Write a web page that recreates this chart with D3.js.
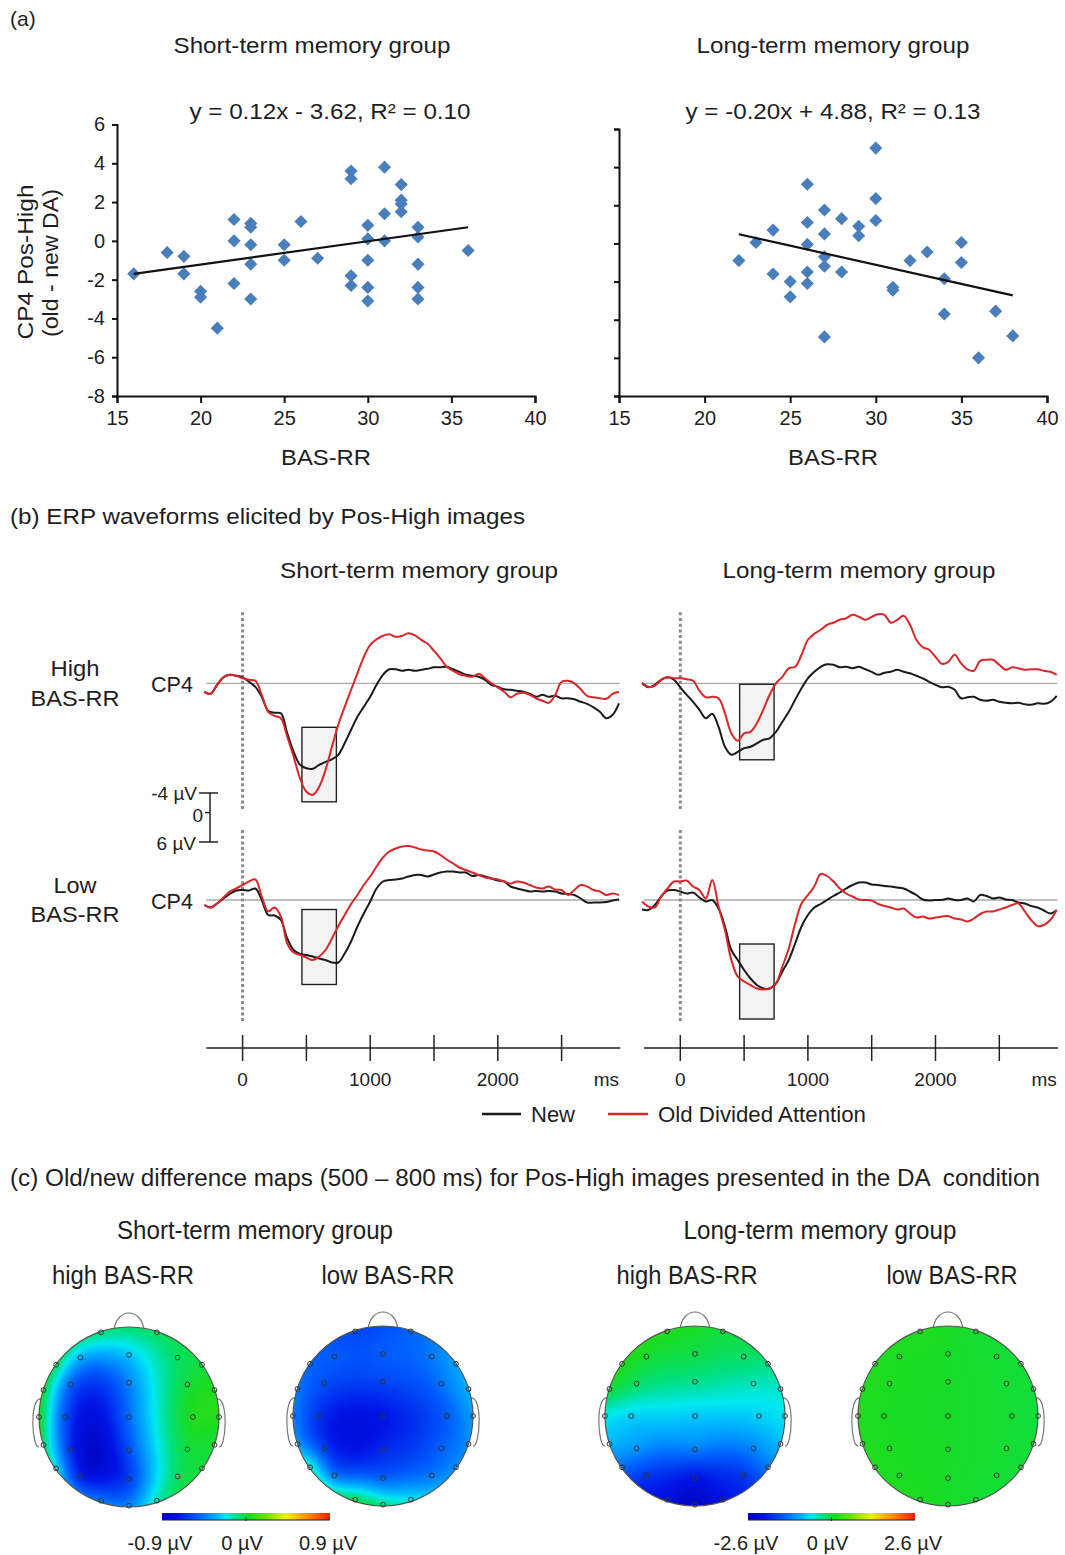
<!DOCTYPE html>
<html>
<head>
<meta charset="utf-8">
<script src="https://cdn.jsdelivr.net/npm/d3@7"></script>
<style>
body{margin:0;background:#fff;}
svg text{font-family:"Liberation Sans",Arial,sans-serif;fill:#1e1e1e;white-space:pre;}
</style>
</head>
<body>
<svg id="fig" width="1065" height="1555"></svg>
<script>
// ---- (a) scatter data: BAS-RR score vs CP4 old-new difference (DA) ----
var shortX = [16,18,19,19,20,20,21,22,22,22,23,23,23,23,23,25,25,26,27,29,29,29,29,30,30,30,30,30,31,31,31,32,32,32,32,33,33,33,33,33,36];
var shortY = [-1.7,-0.6,-0.8,-1.7,-2.6,-2.9,-4.5,1.1,0,-2.2,0.9,0.7,-0.2,-1.2,-3.0,-0.2,-1.0,1.0,-0.9,3.6,3.2,-1.8,-2.3,0.8,0.1,-1.0,-2.4,-3.1,3.8,1.4,0,2.9,2.1,1.9,1.5,0.7,0.2,-1.2,-2.4,-3.0,-0.5];
var longX = [22,23,24,24,25,25,26,26,26,26,26,27,27,27,27,27,28,28,29,29,30,30,30,31,31,32,33,34,34,35,35,36,37,38];
var longY = [-0.9,0.05,0.7,-1.6,-2.0,-2.8,3.1,1.1,-0.05,-1.5,-2.1,1.75,0.5,-0.7,-1.2,-4.9,1.3,-1.5,0.9,0.4,5.0,2.35,1.2,-2.3,-2.45,-0.9,-0.45,-1.85,-3.7,0.05,-1.0,-6.0,-3.55,-4.85];
var fitSlope = [0.12, -0.20];
var fitIntercept = [-3.62, 4.88];
var fitRange = [[16, 36], [22, 38]];
var fitLabels = ["y = 0.12x - 3.62, R\u00b2 = 0.10", "y = -0.20x + 4.88, R\u00b2 = 0.13"];
var xTicks = [15, 20, 25, 30, 35, 40];
var yTicks = [-8, -6, -4, -2, 0, 2, 4, 6];
var groupNames = ["Short-term memory group", "Long-term memory group"];

// ---- (b) ERP waveforms at CP4 (µV, sampled every 50 ms) ----
var times = [-300,-250,-200,-150,-100,-50,0,50,100,150,200,250,300,350,400,450,500,550,600,650,700,750,800,850,900,950,
  1000,1050,1100,1150,1200,1250,1300,1350,1400,1450,1500,1550,1600,1650,1700,1750,1800,1850,1900,1950,
  2000,2050,2100,2150,2200,2250,2300,2350,2400,2450,2500,2550,2600,2650,2700,2750,2800,2850,2900,2950];
var shortHighNew = [1.7,2.1,0.3,-1.2,-1.7,-1.5,-1.2,-0.3,0.7,2.7,5.5,5.9,6.0,10.0,13.7,16.3,17.0,17.1,16.3,15.7,15.2,14.3,12.0,9.3,6.7,4.7,2.7,0.3,-1.7,-2.8,-2.8,-2.5,-2.7,-2.5,-2.7,-2.9,-3.2,-3.2,-3.3,-2.8,-2.3,-1.7,-1.5,-1.3,-0.7,0.3,0.7,1.2,1.3,1.5,1.7,2.1,2.7,2.3,2.7,2.5,3.0,3.0,3.2,3.7,4.1,4.8,5.7,7.0,6.3,4.0];
var shortHighOld = [1.7,2.1,0.3,-1.2,-1.7,-1.5,-1.0,-0.7,-0.5,2.3,5.7,6.5,7.0,10.7,14.7,19.0,21.7,22.3,20.7,17.3,12.7,8.3,4.7,1.3,-2.0,-5.3,-7.7,-8.8,-9.5,-9.8,-9.3,-9.5,-10.0,-9.6,-8.7,-7.9,-6.5,-5.0,-3.3,-2.5,-1.8,-1.5,-1.3,-1.9,-1.0,0,0.8,1.7,2.8,2.1,1.9,2.3,3.0,3.5,3.9,2.3,-0.3,-0.5,0,1.2,2.5,2.8,3.0,3.1,2.1,1.7];
var longHighNew = [0,0.8,0.3,-0.7,-1.2,-0.7,0.8,2.3,3.7,5.3,7.0,6.1,8.7,12.7,14.3,13.7,13.0,12.7,12.0,11.3,11.0,9.7,7.7,5.7,3.3,1.0,-1.0,-2.3,-3.3,-3.8,-3.7,-3.2,-3.3,-3.0,-3.3,-2.8,-2.3,-1.7,-2.1,-2.3,-2.7,-2.3,-2.0,-1.5,-1.0,-0.3,0.3,0.8,0.7,1.3,3.0,2.8,2.7,3.3,3.5,3.3,3.7,3.9,4.0,3.9,4.2,4.3,4.0,4.1,3.7,2.5];
var longHighOld = [-0.1,0.7,0.5,-0.7,-1.2,-1.0,-1.0,-0.8,-0.5,1.5,2.8,2.7,3.0,6.0,10.0,11.5,10.0,9.7,8.0,5.3,2.3,0,-1.3,-3.0,-3.3,-5.7,-8.7,-9.9,-10.7,-11.7,-12.1,-12.7,-13.0,-13.7,-13.3,-12.7,-13.3,-13.8,-13.7,-12.1,-12.7,-13.5,-11.7,-8.7,-7.2,-6.7,-5.3,-3.9,-4.3,-5.7,-4.0,-2.8,-2.5,-4.5,-4.7,-4.7,-3.7,-2.7,-3.2,-3.0,-2.7,-2.8,-2.8,-2.5,-2.3,-1.7];
var shortLowNew = [1.0,1.5,0.7,-0.3,-1.2,-1.9,-2.0,-1.9,-2.3,0,3.0,3.1,4.0,7.7,10.0,10.8,11.0,11.3,11.7,12.0,12.5,12.5,10.7,8.3,5.3,2.7,0.3,-2.3,-3.7,-4.0,-4.1,-4.3,-4.7,-5.0,-5.0,-4.7,-5.1,-5.5,-5.7,-5.7,-5.5,-5.5,-4.8,-5.0,-4.7,-4.3,-3.9,-3.7,-2.7,-2.3,-2.0,-1.7,-1.8,-1.7,-1.8,-1.7,-1.3,-1.2,-1.0,-0.3,0.5,0.5,0.5,0.4,0.1,-0.1];
var shortLowOld = [1.0,1.5,0.7,-0.5,-1.7,-2.3,-3.0,-3.7,-4.1,-0.7,2.3,1.5,3.3,8.7,10.5,11.0,11.5,12.0,11.3,10.0,7.7,5.2,3.0,0.8,-1.0,-3.0,-4.7,-6.7,-8.5,-9.7,-10.3,-10.7,-10.8,-10.5,-10.1,-9.9,-9.7,-9.0,-8.1,-7.3,-6.5,-6.0,-5.5,-5.0,-4.5,-4.3,-4.1,-3.7,-3.3,-3.7,-3.5,-3.0,-2.5,-2.3,-2.7,-2.1,-2.0,-1.0,-2.0,-3.0,-2.7,-2.0,-1.7,-1.0,-1.3,-1.0];
var longLowNew = [1.9,2.0,1.0,-0.7,-1.9,-2.0,-1.7,-1.3,-1.5,-0.5,0.3,0,1.7,5.3,10.0,12.0,14.0,15.7,17.0,17.7,17.7,16.7,14.3,12.0,8.7,5.3,3.0,1.5,0.8,0,-0.8,-1.5,-2.3,-3.0,-3.5,-3.5,-3.1,-3.0,-2.8,-2.7,-2.5,-2.3,-1.7,-1.0,-0.1,0.1,0,0,-0.3,0,0,-0.3,0.3,-1.0,-0.8,-0.3,-0.5,-0.1,0,0.5,0.7,1.2,1.5,2.1,2.7,2.0];
var longLowOld = [0.3,1.3,1.5,-0.7,-2.3,-3.7,-3.7,-3.9,-2.7,-2.0,-0.3,-4.0,1.3,6.0,12.0,15.3,16.3,17.0,17.7,17.9,17.7,16.7,13.3,9.7,4.7,0.7,-1.0,-2.7,-5.2,-4.8,-3.7,-2.3,-1.3,-0.7,-0.1,0,0.1,0.8,1.2,1.5,1.9,1.7,2.7,3.5,3.3,3.7,3.5,3.3,3.2,3.7,3.9,4.3,3.7,2.8,2.3,2.3,1.9,1.5,1.0,0.7,2.3,4.0,5.2,5.0,4.0,2.0];
var windowMs = [465, 735];            // shaded analysis window
var boxRange = [[8.8, 23.7], [0.2, 15.3], [1.9, 16.9], [8.8, 23.8]]; // µV span of each window box
var timeTicks = [0, 500, 1000, 1500, 2000, 2500];
var timeLabels = [0, 1000, 2000];

// ---- (c) old/new difference at 30 electrodes (µV) ----
var mapShortHigh = [-0.08,-0.05, -0.05,-0.32,-0.28,-0.05,0, 0,-0.5,-0.42,0,0.05, 0.05,-0.55,-0.48,0.05,0.05, -0.05,-0.64,-0.55,0,0, -0.22,-0.68,-0.6,-0.05,0, -0.45,-0.42,-0.15];
var mapShortLow = [-0.58,-0.5, -0.5,-0.52,-0.52,-0.45,-0.35, -0.45,-0.56,-0.58,-0.46,-0.33, -0.42,-0.64,-0.72,-0.52,-0.36, -0.37,-0.6,-0.66,-0.5,-0.4, -0.16,-0.45,-0.5,-0.45,-0.4, -0.03,-0.1,-0.22];
var mapLongHigh = [0.15,0, 0.15,0.05,-0.05,-0.15,-0.25, 0,-0.15,-0.3,-0.45,-0.5, -0.6,-0.75,-0.8,-0.75,-0.65, -0.9,-1.1,-1.25,-1.2,-0.9, -1.4,-1.8,-2.1,-1.8,-1.3, -2.2,-2.4,-2.1];
var mapLongLow = [0.15,0.05, 0.15,0.12,0.08,0.04,0.02, 0.15,0.12,0.08,0.04,0.02, 0.15,0.12,0.08,0.04,0.02, 0.15,0.12,0.08,0.04,0.02, 0.15,0.12,0.08,0.04,0.02, 0.12,0.08,0.04];
var mapLimits = [0.9, 0.9, 2.6, 2.6];
var mapTitles = ["high BAS-RR", "low BAS-RR", "high BAS-RR", "low BAS-RR"];

// electrode montage (unit head, x right, y toward back)
var montage = [[-0.31,-0.94],[0.31,-0.94],
  [-0.81,-0.58],[-0.54,-0.66],[0,-0.69],[0.54,-0.66],[0.81,-0.58],
  [-0.95,-0.30],[-0.65,-0.36],[0,-0.38],[0.65,-0.36],[0.95,-0.30],
  [-1,0],[-0.71,0],[0,0],[0.71,0],[1,0],
  [-0.95,0.31],[-0.65,0.36],[0,0.37],[0.65,0.36],[0.95,0.31],
  [-0.81,0.57],[-0.54,0.66],[0,0.69],[0.54,0.66],[0.81,0.57],
  [-0.31,0.93],[0,0.985],[0.31,0.93]];

var svg = d3.select("#fig");

function txt(x, y, s, size, anchor, len){
    var t = svg.append("text").attr("x", x).attr("y", y).text(s)
        .style("font-size", size + "px").attr("text-anchor", anchor || "start");
    if(len){
        t.attr("textLength", len).attr("lengthAdjust", "spacingAndGlyphs");
    }
    return t;
}

// ================= (a) scatter plots =================
txt(10, 26, "(a)", 21);
var scat = [
    {xs: shortX, ys: shortY, xr: [117, 535], yr: [396, 124.5], labels: true, titleX: 312, titleLen: 277, eqX: 330, eqLen: 281},
    {xs: longX, ys: longY, xr: [619, 1047], yr: [396, 129], labels: false, titleX: 833, titleLen: 273, eqX: 833, eqLen: 295}
];
scat.forEach(function(p, k){
    var x = d3.scaleLinear().domain([15, 40]).range(p.xr);
    var y = d3.scaleLinear().domain([-8, 6]).range(p.yr);
    txt(p.titleX, 53, groupNames[k], 22, "middle", p.titleLen);
    txt(p.eqX, 119, fitLabels[k], 22, "middle", p.eqLen);

    var gx = svg.append("g").attr("transform", "translate(0," + p.yr[0] + ")")
        .call(d3.axisBottom(x).tickValues(xTicks).tickSize(7).tickPadding(8).tickFormat(function(d){ return String(d); }));
    var gy = svg.append("g").attr("transform", "translate(" + p.xr[0] + ",0)")
        .call(d3.axisLeft(y).tickValues(yTicks).tickSize(5).tickPadding(7).tickFormat(function(d){ return String(d); }));
    if(!p.labels){ gy.selectAll(".tick text").remove(); }
    [gx, gy].forEach(function(g){
        g.select(".domain").attr("stroke", "#111").attr("stroke-width", 2);
        g.selectAll(".tick line").attr("stroke", "#111").attr("stroke-width", 2);
        g.selectAll(".tick text").style("font-size", "20px").attr("fill", "#1e1e1e")
            .style("font-family", '"Liberation Sans",Arial,sans-serif');
    });
    txt((p.xr[0] + p.xr[1]) / 2, 465, "BAS-RR", 22, "middle", 90);

    svg.append("g").selectAll("path").data(p.xs).enter().append("path")
        .attr("d", d3.symbol().type(d3.symbolSquare).size(86))
        .attr("transform", function(d, i){ return "translate(" + x(d) + "," + y(p.ys[i]) + ") rotate(45)"; })
        .attr("fill", "#4a7ebb");

    var fit = d3.line().x(function(d){ return x(d); })
        .y(function(d){ return y(fitSlope[k] * d + fitIntercept[k]); });
    svg.append("path").attr("d", fit(fitRange[k])).attr("stroke", "#111")
        .attr("stroke-width", 2.2).attr("fill", "none");
});
svg.append("text").attr("transform", "translate(33,262) rotate(-90)").attr("text-anchor", "middle")
    .style("font-size", "22px").attr("textLength", 155).attr("lengthAdjust", "spacingAndGlyphs").text("CP4 Pos-High");
svg.append("text").attr("transform", "translate(58,263) rotate(-90)").attr("text-anchor", "middle")
    .style("font-size", "22px").attr("textLength", 148).attr("lengthAdjust", "spacingAndGlyphs").text("(old - new DA)");

// ================= (b) ERP waveforms =================
txt(10, 524, "(b) ERP waveforms elicited by Pos-High images", 22, "start", 515);
txt(419, 578, groupNames[0], 22, "middle", 278);
txt(859, 578, groupNames[1], 22, "middle", 273);

var colZero = [242.6, 680.3];   // x position of stimulus onset
var rowBase = [683.3, 900];     // y position of the CP4 baseline
var erp = [
    {row: 0, col: 0, nw: shortHighNew, od: shortHighOld},
    {row: 0, col: 1, nw: longHighNew, od: longHighOld},
    {row: 1, col: 0, nw: shortLowNew, od: shortLowOld},
    {row: 1, col: 1, nw: longLowNew, od: longLowOld}
];
var tx = colZero.map(function(z){ return d3.scaleLinear().domain([0, 2500]).range([z, z + 319]); });
var vy = rowBase.map(function(b){ return d3.scaleLinear().domain([0, 10]).range([b, b + 50]); });

erp.forEach(function(p, k){
    var x = tx[p.col], y = vy[p.row];
    svg.append("line").attr("x1", x(-285)).attr("x2", x(2955)).attr("y1", y(0)).attr("y2", y(0))
        .attr("stroke", "#aaa").attr("stroke-width", 1.3);
    svg.append("line").attr("x1", x(0)).attr("x2", x(0))
        .attr("y1", y(0) - (p.row ? 70 : 71)).attr("y2", y(0) + (p.row ? 123 : 126))
        .attr("stroke", "#8a8a8a").attr("stroke-width", 3).attr("stroke-dasharray", "3,2.7");
    svg.append("rect").attr("x", x(windowMs[0])).attr("width", x(windowMs[1]) - x(windowMs[0]))
        .attr("y", y(boxRange[k][0])).attr("height", y(boxRange[k][1]) - y(boxRange[k][0]))
        .attr("fill", "#f3f3f3").attr("stroke", "#222").attr("stroke-width", 1.4);
    var line = d3.line().x(function(d, i){ return x(times[i]); }).y(function(d){ return y(d); })
        .curve(d3.curveCatmullRom.alpha(0.5));
    svg.append("path").attr("d", line(p.nw)).attr("fill", "none").attr("stroke", "#1a1a1a").attr("stroke-width", 2);
    svg.append("path").attr("d", line(p.od)).attr("fill", "none").attr("stroke", "#d8262a").attr("stroke-width", 2);
});

txt(75, 676, "High", 22, "middle", 49);
txt(75, 706, "BAS-RR", 22, "middle", 89);
txt(75, 893, "Low", 22, "middle", 43);
txt(75, 922, "BAS-RR", 22, "middle", 89);
txt(151, 692, "CP4", 22, "start", 42);
txt(151, 909, "CP4", 22, "start", 42);

// amplitude scale bar
var bar = d3.scaleLinear().domain([-4, 6]).range([793, 842]);
svg.append("line").attr("x1", 210).attr("x2", 210).attr("y1", bar(-4)).attr("y2", bar(6)).attr("stroke", "#222").attr("stroke-width", 1.5);
[-4, 6].forEach(function(v){
    svg.append("line").attr("x1", 199).attr("x2", 218).attr("y1", bar(v)).attr("y2", bar(v)).attr("stroke", "#222").attr("stroke-width", 1.5);
});
svg.append("line").attr("x1", 205).attr("x2", 210).attr("y1", bar(0)).attr("y2", bar(0)).attr("stroke", "#222").attr("stroke-width", 1.5);
txt(197, bar(-4) + 7, "-4 \u00b5V", 19, "end");
txt(203, bar(0) + 9, "0", 19, "end");
txt(196, bar(6) + 8, "6 \u00b5V", 19, "end");

// time axes
tx.forEach(function(x){
    svg.append("line").attr("x1", x(-285)).attr("x2", x(2960)).attr("y1", 1048).attr("y2", 1048)
        .attr("stroke", "#222").attr("stroke-width", 1.5);
    svg.append("g").selectAll("line").data(timeTicks).enter().append("line")
        .attr("x1", function(d){ return x(d); }).attr("x2", function(d){ return x(d); })
        .attr("y1", 1035).attr("y2", 1061).attr("stroke", "#222").attr("stroke-width", 1.5);
    svg.append("g").selectAll("text").data(timeLabels).enter().append("text")
        .attr("x", function(d){ return x(d); }).attr("y", 1086).attr("text-anchor", "middle")
        .style("font-size", "19px").text(function(d){ return d; });
    txt(x(2950), 1086, "ms", 19, "end");
});

// legend
svg.append("line").attr("x1", 482).attr("x2", 521).attr("y1", 1114).attr("y2", 1114).attr("stroke", "#1a1a1a").attr("stroke-width", 2.5);
txt(531, 1122, "New", 22, "start", 44);
svg.append("line").attr("x1", 608).attr("x2", 648).attr("y1", 1114).attr("y2", 1114).attr("stroke", "#d8262a").attr("stroke-width", 2.5);
txt(658, 1122, "Old Divided Attention", 22, "start", 208);

// ================= (c) topographic maps =================
txt(10, 1186, "(c) Old/new difference maps (500 \u2013 800 ms) for Pos-High images presented in the DA  condition", 23, "start", 1030);
txt(255, 1239, groupNames[0], 25, "middle", 276);
txt(820, 1239, groupNames[1], 25, "middle", 273);

var jetStops = [0, 0.1, 0.22, 0.32, 0.38, 0.45, 0.52, 0.62, 0.74, 0.86, 1];
var jetColors = ["#0000b4", "#0014e6", "#0060ff", "#00b0ff", "#00e8f0", "#00e080", "#18dc22", "#70e000", "#f0f000", "#ff9000", "#e82000"];

function kern(ax, ay, bx, by){
    var d2 = (ax - bx) * (ax - bx) + (ay - by) * (ay - by);
    return d2 > 0 ? 0.5 * d2 * Math.log(d2) : 0;
}
// thin plate spline through the electrode values
function fitSpline(pts, vals){
    var n = pts.length, N = n + 3, A = [], b = [];
    for(var i = 0; i < N; i++){ A.push(new Float64Array(N)); b.push(0); }
    for(var i = 0; i < n; i++){
        for(var j = 0; j < n; j++){ A[i][j] = kern(pts[i][0], pts[i][1], pts[j][0], pts[j][1]); }
        A[i][i] += 0.002;
        A[i][n] = A[n][i] = 1;
        A[i][n + 1] = A[n + 1][i] = pts[i][0];
        A[i][n + 2] = A[n + 2][i] = pts[i][1];
        b[i] = vals[i];
    }
    for(var c = 0; c < N; c++){
        var p = c;
        for(var r = c + 1; r < N; r++){ if(Math.abs(A[r][c]) > Math.abs(A[p][c])) p = r; }
        var t = A[c]; A[c] = A[p]; A[p] = t;
        var tb = b[c]; b[c] = b[p]; b[p] = tb;
        for(var r = c + 1; r < N; r++){
            var f = A[r][c] / A[c][c];
            if(f === 0) continue;
            for(var q = c; q < N; q++) A[r][q] -= f * A[c][q];
            b[r] -= f * b[c];
        }
    }
    var w = new Array(N);
    for(var r = N - 1; r >= 0; r--){
        var s = b[r];
        for(var q = r + 1; q < N; q++) s -= A[r][q] * w[q];
        w[r] = s / A[r][r];
    }
    return function(x, y){
        var s = w[n] + w[n + 1] * x + w[n + 2] * y;
        for(var i = 0; i < n; i++) s += w[i] * kern(x, y, pts[i][0], pts[i][1]);
        return s;
    };
}

var heads = [
    {cx: 129, cy: 1417, vals: mapShortHigh, titleX: 123, titleLen: 142},
    {cx: 383, cy: 1416, vals: mapShortLow, titleX: 388, titleLen: 133},
    {cx: 695, cy: 1416, vals: mapLongHigh, titleX: 687, titleLen: 141},
    {cx: 948, cy: 1416, vals: mapLongLow, titleX: 952, titleLen: 131}
];
var R = 90;
var defs = svg.append("defs");

heads.forEach(function(h, k){
    var lim = mapLimits[k];
    var color = d3.scaleLinear().domain(jetStops.map(function(s){ return -lim + 2 * lim * s; }))
        .range(jetColors).clamp(true);
    txt(h.titleX, 1284, mapTitles[k], 25, "middle", h.titleLen);

    // nose and ears
    var top = h.cy - R;
    svg.append("path").attr("d", "M" + (h.cx - 15) + "," + (top + 4) + " C" + (h.cx - 13) + "," + (top - 20) + " " + (h.cx + 13) + "," + (top - 20) + " " + (h.cx + 15) + "," + (top + 4))
        .attr("fill", "#fff").attr("stroke", "#777").attr("stroke-width", 1.2);
    [-1, 1].forEach(function(sd){
        var ex = h.cx + sd * (R - 2);
        svg.append("path").attr("d", "M" + ex + "," + (h.cy - 0.2 * R) + " C" + (ex + sd * 12) + "," + (h.cy - 0.22 * R) + " " + (ex + sd * 9) + "," + (h.cy + 0.36 * R) + " " + (ex + sd * 2) + "," + (h.cy + 0.33 * R))
            .attr("fill", "#fff").attr("stroke", "#777").attr("stroke-width", 1.2);
    });

    // interpolated field painted into a canvas, then placed in the svg
    var f = fitSpline(montage, h.vals);
    var size = 2 * R;
    var canvas = document.createElement("canvas");
    canvas.width = size; canvas.height = size;
    var ctx = canvas.getContext("2d");
    var img = ctx.createImageData(size, size);
    for(var py = 0; py < size; py++){
        for(var px = 0; px < size; px++){
            var nx = (px + 0.5 - R) / R, ny = (py + 0.5 - R) / R;
            if(nx * nx + ny * ny > 1.04) continue;
            var c = d3.rgb(color(f(nx, ny)));
            var o = (py * size + px) * 4;
            img.data[o] = c.r; img.data[o + 1] = c.g; img.data[o + 2] = c.b; img.data[o + 3] = 255;
        }
    }
    ctx.putImageData(img, 0, 0);
    defs.append("clipPath").attr("id", "head" + k).append("circle").attr("cx", h.cx).attr("cy", h.cy).attr("r", R);
    svg.append("image").attr("x", h.cx - R).attr("y", h.cy - R).attr("width", size).attr("height", size)
        .attr("href", canvas.toDataURL()).attr("clip-path", "url(#head" + k + ")");
    svg.append("circle").attr("cx", h.cx).attr("cy", h.cy).attr("r", R)
        .attr("fill", "none").attr("stroke", "#555").attr("stroke-width", 1.2);
    svg.append("g").selectAll("circle").data(montage).enter().append("circle")
        .attr("cx", function(d){ return h.cx + d[0] * R; })
        .attr("cy", function(d){ return h.cy + d[1] * R; })
        .attr("r", 2.4).attr("fill", "none").attr("stroke", "#333").attr("stroke-width", 1);
});

// colour bars
var grad = defs.append("linearGradient").attr("id", "jet");
jetStops.forEach(function(s, i){
    grad.append("stop").attr("offset", s).attr("stop-color", jetColors[i]);
});
var bars = [{x0: 162, x1: 330, lim: mapLimits[0]}, {x0: 748, x1: 915, lim: mapLimits[2]}];
bars.forEach(function(b){
    var s = d3.scaleLinear().domain([-b.lim, b.lim]).range([b.x0, b.x1]);
    svg.append("rect").attr("x", b.x0).attr("y", 1513).attr("width", b.x1 - b.x0).attr("height", 7).attr("fill", "url(#jet)");
    svg.append("line").attr("x1", b.x0).attr("x2", b.x1).attr("y1", 1520).attr("y2", 1520).attr("stroke", "#222").attr("stroke-width", 1);
    svg.append("line").attr("x1", s(0)).attr("x2", s(0)).attr("y1", 1517).attr("y2", 1521).attr("stroke", "#222").attr("stroke-width", 1);
    svg.append("g").selectAll("text").data([-b.lim, 0, b.lim]).enter().append("text")
        .attr("x", function(d){ return s(d) + (d === 0 ? -4 : -2); })
        .attr("y", 1550).attr("text-anchor", "middle").style("font-size", "20px")
        .text(function(d){ return d + " \u00b5V"; });
});
</script>
</body>
</html>
